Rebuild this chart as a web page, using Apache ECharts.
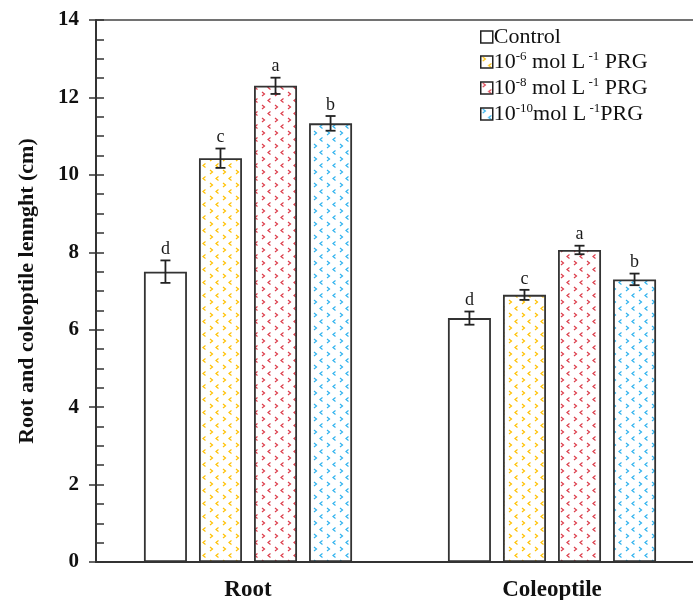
<!DOCTYPE html>
<html><head><meta charset="utf-8">
<script src="https://cdn.jsdelivr.net/npm/echarts@6/dist/echarts.min.js"></script>
<style>html,body{margin:0;padding:0;background:#fff}#c{width:693px;height:600px}</style>
</head><body><div id="c"></div>
<script>
const categories = ['Root', 'Coleoptile'];
const seriesNames = ['Control', '10-6 mol L-1 PRG', '10-8 mol L-1 PRG', '10-10 mol L-1 PRG'];
const controlVals = [7.5, 6.3];
const prg6Vals = [10.43, 6.9];
const prg8Vals = [12.3, 8.06];
const prg10Vals = [11.33, 7.3];
const controlErr = [0.29, 0.17];
const prg6Err = [0.25, 0.13];
const prg8Err = [0.21, 0.11];
const prg10Err = [0.19, 0.15];
const controlLetters = ['d', 'd'];
const prg6Letters = ['c', 'c'];
const prg8Letters = ['a', 'a'];
const prg10Letters = ['b', 'b'];
const yTicks = [0, 2, 4, 6, 8, 10, 12, 14];

const allVals = [controlVals, prg6Vals, prg8Vals, prg10Vals];
const allErr = [controlErr, prg6Err, prg8Err, prg10Err];
const allLetters = [controlLetters, prg6Letters, prg8Letters, prg10Letters];

function makePattern(color) {
  if (!color) return '#fff';
  const c = document.createElement('canvas');
  c.width = 13; c.height = 13;
  const ctx = c.getContext('2d');
  ctx.fillStyle = '#fff'; ctx.fillRect(0, 0, 13, 13);
  ctx.strokeStyle = color; ctx.lineWidth = 1.2;
  function chev(x, y, d) {
    ctx.beginPath(); ctx.moveTo(x, y); ctx.lineTo(x + 2.5 * d, y + 2); ctx.lineTo(x, y + 4); ctx.stroke();
  }
  chev(2, 1, 1);
  chev(10.5, 7.5, -1);
  return { image: c, repeat: 'repeat' };
}
const colors = [null, '#FFC000', '#DC3C4A', '#2FB2EE'];
const BW = 43, GAP_RATIO = 0.28, GAP = (GAP_RATIO * 100) + '%';
const serif = '"Liberation Serif", "Times New Roman", serif';
const GRID_LEFT = 96, CANVAS_W = 693, BAND_PX = 304;
const xMin = -0.5, xMax = xMin + (CANVAS_W - GRID_LEFT) / BAND_PX;
const N = allVals.length;
const groupW = N * BW + (N - 1) * BW * GAP_RATIO;
function barOffset(i) { return -groupW / 2 + i * BW * (1 + GAP_RATIO) + BW / 2; }

const series = [];
allVals.forEach((vals, i) => {
  series.push({
    name: seriesNames[i], type: 'bar', data: vals.map((v, j) => [j, v]), barWidth: BW, barGap: GAP,
    itemStyle: { color: makePattern(colors[i]), borderColor: '#333', borderWidth: 1.8 },
    emphasis: { disabled: true }
  });
});
allVals.forEach((vals, i) => {
  series.push({
    type: 'custom', z: 10, silent: true,
    data: vals.map((v, j) => [j, v, allErr[i][j]]),
    renderItem: function (params, api) {
      const cat = api.value(0), v = api.value(1), e = api.value(2);
      const top = api.coord([cat, v + e]);
      const bot = api.coord([cat, v - e]);
      const x = top[0] + barOffset(i);
      const hw = 5;
      const st = { stroke: '#222', lineWidth: 1.8 };
      return {
        type: 'group', children: [
          { type: 'line', shape: { x1: x, y1: top[1], x2: x, y2: bot[1] }, style: st },
          { type: 'line', shape: { x1: x - hw, y1: top[1], x2: x + hw, y2: top[1] }, style: st },
          { type: 'line', shape: { x1: x - hw, y1: bot[1], x2: x + hw, y2: bot[1] }, style: st },
          { type: 'text', style: { text: allLetters[i][params.dataIndex], x: x, y: top[1] - 2, align: 'center', verticalAlign: 'bottom', font: '18px ' + serif, fill: '#1a1a1a' } }
        ]
      };
    }
  });
});

const legendRich = {
  n: { fontFamily: serif, fontSize: 22, color: '#111', lineHeight: 22 },
  s: { fontFamily: serif, fontSize: 13, color: '#111', padding: [0, 0, 11, 0], lineHeight: 22 }
};
function fmtLegend(name) {
  if (name === 'Control') return '{n|Control}';
  const m = name.match(/10-(\d+) mol L-1 PRG/);
  if (m[1] === '10') return '{n|10}{s|-10}{n|mol L}{s| -1}{n|PRG}';
  return '{n|10}{s|-' + m[1] + '}{n| mol L}{s| -1}{n| PRG}';
}

const chart = echarts.init(document.getElementById('c'));
chart.setOption({
  animation: false,
  backgroundColor: '#fff',
  grid: { left: GRID_LEFT, top: 20, bottom: 38, right: 0, outerBoundsMode: 'none', containLabel: false },
  legend: {
    orient: 'vertical', left: 475, top: 21, itemWidth: 12, itemHeight: 12, itemGap: 2,
    data: seriesNames, icon: 'rect', selectedMode: false,
    itemStyle: { borderColor: '#222', borderWidth: 1.5 },
    formatter: fmtLegend, textStyle: { rich: legendRich, padding: [0, 0, 0, -4] }
  },
  xAxis: [{
    type: 'value', min: xMin, max: xMax,
    axisLine: { show: true, onZero: false, lineStyle: { color: '#333', width: 2 } },
    axisTick: { show: false },
    splitLine: { show: false },
    axisLabel: {
      customValues: [0, 1],
      formatter: v => (categories[v] !== undefined ? categories[v] : ''),
      fontFamily: serif, fontWeight: 'bold', fontSize: 23, color: '#111', margin: 17
    }
  }, {
    type: 'value', position: 'top', min: xMin, max: xMax,
    axisLine: { show: true, onZero: false, lineStyle: { color: '#444', width: 1.5 } },
    axisTick: { show: false }, splitLine: { show: false }, axisLabel: { show: false }
  }],
  yAxis: [{
    type: 'value', min: yTicks[0], max: yTicks[yTicks.length - 1], interval: 2,
    name: 'Root and coleoptile lennght (cm)', nameLocation: 'middle', nameGap: 58,
    nameTextStyle: { fontFamily: serif, fontWeight: 'bold', fontSize: 22, color: '#111' },
    axisLine: { show: true, onZero: false, lineStyle: { color: '#333', width: 2 } },
    axisTick: { show: true, length: 7, lineStyle: { color: '#333', width: 1.5 } },
    splitLine: { show: false },
    axisLabel: { fontFamily: serif, fontWeight: 'bold', fontSize: 21, color: '#111', margin: 17 }
  }, {
    type: 'value', position: 'left', min: yTicks[0], max: yTicks[yTicks.length - 1], interval: 2,
    axisLine: { show: false, onZero: false },
    axisTick: { show: true, inside: true, length: 8, lineStyle: { color: '#333', width: 1.5 } },
    minorTick: { show: true, splitNumber: 4, length: 8, lineStyle: { color: '#333', width: 1.5 } },
    splitLine: { show: false }, axisLabel: { show: false }
  }],
  series: series
});
</script></body></html>
